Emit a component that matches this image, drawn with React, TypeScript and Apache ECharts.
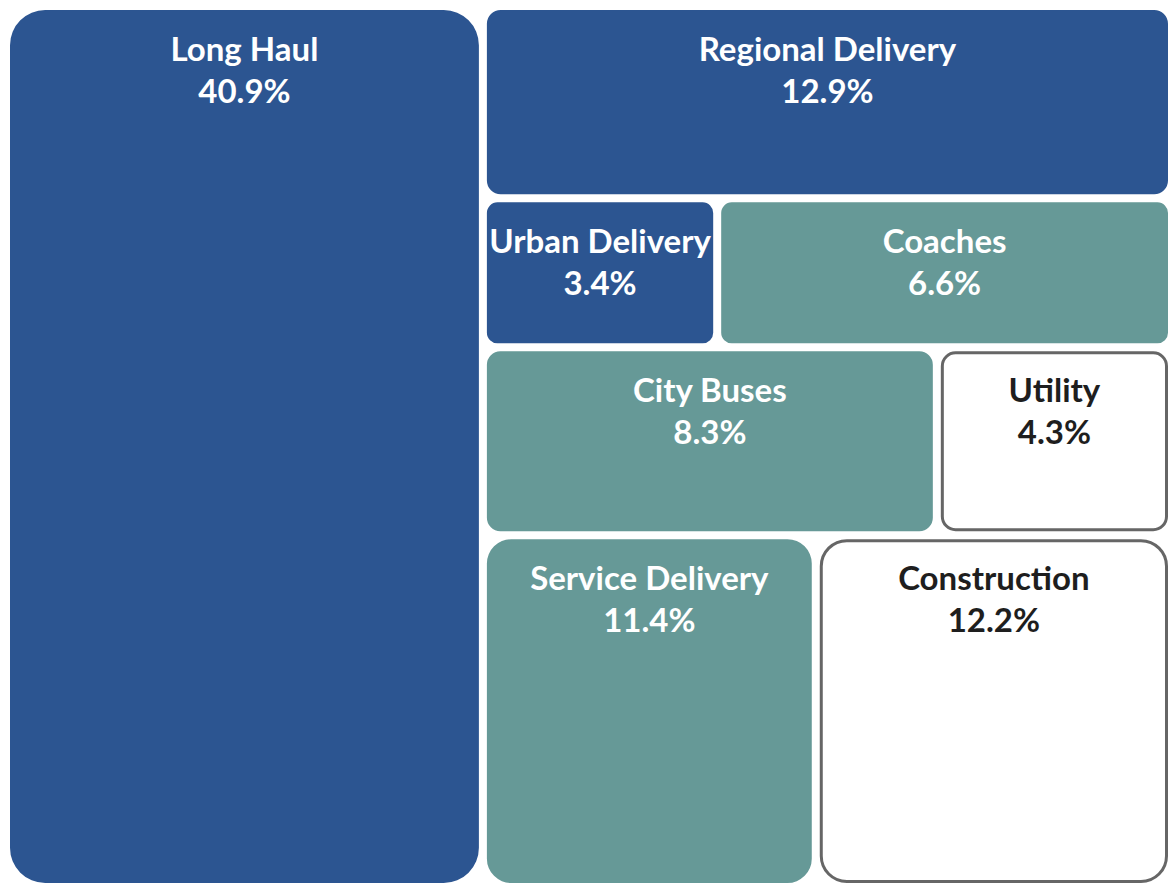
import { useEffect, useRef } from 'react';
import * as echarts from 'echarts';

// ---- data ----
const categories = [
  'Long Haul',
  'Regional Delivery',
  'Urban Delivery',
  'Coaches',
  'City Buses',
  'Utility',
  'Service Delivery',
  'Construction',
];
const shares = [40.9, 12.9, 3.4, 6.6, 8.3, 4.3, 11.4, 12.2];
// treemap structure: column, then row inside the column
const columnOf = [0, 1, 1, 1, 1, 1, 1, 1];
const rowOf = [0, 1, 2, 2, 3, 3, 4, 4];
const tones = ['blue', 'blue', 'blue', 'teal', 'teal', 'outline', 'teal', 'outline'];

const TONE: Record<string, { fill: string; stroke: string | null; text: string }> = {
  blue: { fill: '#2C5591', stroke: null, text: '#FFFFFF' },
  teal: { fill: '#669997', stroke: null, text: '#FFFFFF' },
  outline: { fill: '#FFFFFF', stroke: '#666666', text: '#1E1E1E' },
};

const sumOf = (idx: number[]) => idx.reduce((a, i) => a + shares[i], 0);

// slice-and-dice layout in a 0..100 x 0..100 value space, computed from the shares
function sliceAndDice(): number[][] {
  const all = shares.map((_, i) => i);
  const total = sumOf(all);
  const out: number[][] = [];
  const cols = Array.from(new Set(columnOf));
  let cx = 0;
  cols.forEach((c) => {
    const idxC = all.filter((i) => columnOf[i] === c);
    const colSum = sumOf(idxC);
    const w = (colSum / total) * 100;
    const rows = Array.from(new Set(idxC.map((i) => rowOf[i])));
    let cy = 0;
    rows.forEach((r) => {
      const idxR = idxC.filter((i) => rowOf[i] === r);
      const rowSum = sumOf(idxR);
      const h = (rowSum / colSum) * 100;
      let rx = cx;
      idxR.forEach((i) => {
        const iw = (shares[i] / rowSum) * w;
        out[i] = [rx, cy, rx + iw, cy + h];
        rx += iw;
      });
      cy += h;
    });
    cx += w;
  });
  return out;
}

export default function App() {
  const ref = useRef<HTMLDivElement>(null);
  useEffect(() => {
    if (!ref.current) return;
    const chart = echarts.init(ref.current, undefined, { renderer: 'svg' });
    const rects = sliceAndDice();
    const data = categories.map((name, i) => ({
      name,
      value: [...rects[i], shares[i], i],
    }));
    const half = 4;
    chart.setOption({
      animation: false,
      grid: { left: 6, top: 6, width: 1166, height: 881, outerBoundsMode: 'none', containLabel: false },
      xAxis: { type: 'value', min: 0, max: 100, show: false },
      yAxis: { type: 'value', min: 0, max: 100, inverse: true, show: false },
      series: [
        {
          type: 'custom',
          data,
          clip: false,
          renderItem: (params: any, api: any) => {
            const i = api.value(5);
            const p0 = api.coord([api.value(0), api.value(1)]);
            const p1 = api.coord([api.value(2), api.value(3)]);
            const tone = TONE[tones[i]];
            const sw = tone.stroke ? 3 : 0;
            const x = p0[0] + half + sw / 2;
            const y = p0[1] + half + sw / 2;
            const w = p1[0] - p0[0] - 2 * half - sw;
            const h = p1[1] - p0[1] - 2 * half - sw;
            const r = Math.min(w, h) * 0.075;
            const cx = (p0[0] + p1[0]) / 2;
            const top = p0[1] + half;
            const font = '700 33px Lato';
            return {
              type: 'group',
              children: [
                {
                  type: 'rect',
                  shape: { x, y, width: w, height: h, r },
                  style: {
                    fill: tone.fill,
                    stroke: tone.stroke || 'none',
                    lineWidth: sw,
                  },
                },
                {
                  type: 'text',
                  style: {
                    text: categories[i],
                    x: cx,
                    y: top + 38,
                    fill: tone.text,
                    font,
                    align: 'center',
                    verticalAlign: 'middle',
                    textAlign: 'center',
                    textVerticalAlign: 'middle',
                  },
                },
                {
                  type: 'text',
                  style: {
                    text: shares[i].toFixed(1) + '%',
                    x: cx,
                    y: top + 80,
                    fill: tone.text,
                    font,
                    align: 'center',
                    verticalAlign: 'middle',
                    textAlign: 'center',
                    textVerticalAlign: 'middle',
                  },
                },
              ],
            };
          },
        },
      ],
    });
    return () => chart.dispose();
  }, []);
  return (
    <div
      ref={ref}
      style={{ position: 'fixed', left: 0, top: 0, width: 1168, height: 883, background: '#FFFFFF' }}
    />
  );
}
